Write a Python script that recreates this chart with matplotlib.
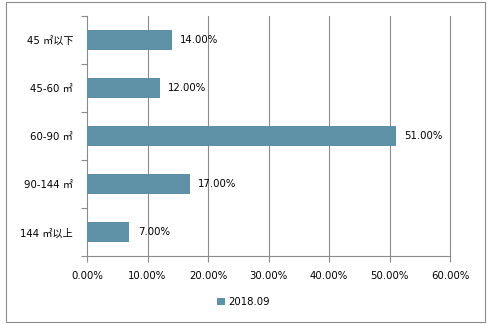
import matplotlib.pyplot as plt
from matplotlib.patches import Rectangle
import numpy as np

plt.rcParams['font.family'] = ['DejaVu Sans', 'Noto Sans CJK SC']

categories = ["45 ㎡以下", "45-60 ㎡", "60-90 ㎡", "90-144 ㎡", "144 ㎡以上"]
values = [14.0, 12.0, 51.0, 17.0, 7.0]
xticks = [0, 10, 20, 30, 40, 50, 60]
series_name = "2018.09"

bar_color = "#5F91A6"
line_gray = "#8C8C8C"

fig = plt.figure(figsize=(4.91, 3.24), dpi=100)
ax = fig.add_axes([87 / 491, 1 - 256 / 324, (450 - 87) / 491, (256 - 16) / 324])

y = np.arange(len(categories))
ax.barh(y, values, height=0.4, color=bar_color, label=series_name, zorder=3)

for yi, v in zip(y, values):
    ax.text(v + 1.4, yi, f"{v:.2f}%", va="center", ha="left", fontsize=7.3, color="black")

ax.set_xlim(0, 60)
ax.set_ylim(len(categories) - 0.5, -0.5)
ax.set_xticks(xticks)
ax.set_xticklabels([f"{t:.2f}%" for t in xticks], fontsize=7.3)
for t in xticks[1:]:
    ax.axvline(t, color=line_gray, linewidth=0.8, zorder=0, clip_on=False)

# category labels at centers, tick marks between categories
ax.set_yticks(np.arange(-0.5, len(categories)), minor=False)
ax.set_yticklabels([])
ax.set_yticks(y, minor=True)
ax.set_yticklabels(categories, minor=True, fontsize=7.3)
ax.tick_params(axis="y", which="minor", length=0, pad=10)
ax.tick_params(axis="y", which="major", length=4, color=line_gray)
ax.tick_params(axis="x", length=4, color=line_gray, pad=7)

for s in ["top", "right"]:
    ax.spines[s].set_visible(False)
for s in ["left", "bottom"]:
    ax.spines[s].set_color(line_gray)
    ax.spines[s].set_linewidth(0.8)

fig.legend(loc="center", bbox_to_anchor=(243 / 491, 1 - 302 / 324), frameon=False,
           fontsize=7.3, handlelength=0.8, handleheight=0.8, handletextpad=0.3)

fig.patches.append(Rectangle((6 / 491, 2 / 324), 479 / 491, 320 / 324, transform=fig.transFigure,
                             fill=False, edgecolor=line_gray, linewidth=0.8))

fig.savefig("out.png", dpi=100)
